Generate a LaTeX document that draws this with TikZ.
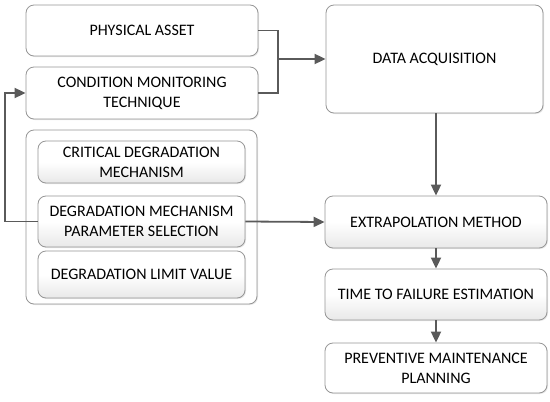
\documentclass[tikz,border=0pt]{standalone}
\usepackage{fontspec}
\setmainfont{Carlito}
\usetikzlibrary{arrows.meta,shadows}
\definecolor{linec}{RGB}{90,90,90}
\definecolor{boxc}{RGB}{150,150,150}
\begin{document}
\begin{tikzpicture}[x=1pt,y=-1pt,
  box/.style={draw=boxc, line width=0.8pt, rounded corners=8pt, fill=white, align=center,
    font=\fontsize{16}{20}\selectfont, inner sep=2pt,
    drop shadow={opacity=0.2, shadow xshift=1pt, shadow yshift=-1pt}},
  gbox/.style={box, top color=white, bottom color=black!9, middle color=white},
  conn/.style={draw=linec, line width=1.8pt},
  arr/.style={conn, -{Triangle[length=11pt,width=10pt]}}]
\useasboundingbox (0,0) rectangle (550,402);
\node[box, minimum width=232pt, minimum height=51pt] (pa) at (142,30.5) {PHYSICAL ASSET};
\node[box, minimum width=232pt, minimum height=52pt] (cmt) at (142,93) {CONDITION MONITORING\\TECHNIQUE};
\node[box, minimum width=231pt, minimum height=174pt] (grp) at (141.5,217) {};
\node[gbox, minimum width=207pt, minimum height=42pt] (cdm) at (141.5,162) {CRITICAL DEGRADATION\\MECHANISM};
\node[gbox, minimum width=207pt, minimum height=51pt] (dmps) at (141.5,221.5) {DEGRADATION MECHANISM\\PARAMETER SELECTION};
\node[gbox, minimum width=207pt, minimum height=47pt] (dlv) at (141.5,274.5) {DEGRADATION LIMIT VALUE};
\node[box, minimum width=217pt, minimum height=108pt] (da) at (434.5,59) {DATA ACQUISITION};
\node[gbox, minimum width=222pt, minimum height=52pt] (em) at (436,222) {EXTRAPOLATION METHOD};
\node[gbox, minimum width=222pt, minimum height=51pt] (ttf) at (436,294.5) {TIME TO FAILURE ESTIMATION};
\node[box, minimum width=222pt, minimum height=50pt] (pmp) at (436,368) {PREVENTIVE MAINTENANCE\\PLANNING};
\coordinate (j) at (278,59);
\draw[conn] (pa.east) -| (j) |- (cmt.east);
\draw[arr] (j) -- (da.west);
\draw[arr] (dmps.west) -- (5,221.5) |- (cmt.west);
\draw[arr] (dmps.east) -- (em.west);
\draw[arr] (da.south -| em.north) -- (em.north);
\draw[arr] (em.south) -- (ttf.north);
\draw[arr] (ttf.south) -- (pmp.north);
\end{tikzpicture}
\end{document}
